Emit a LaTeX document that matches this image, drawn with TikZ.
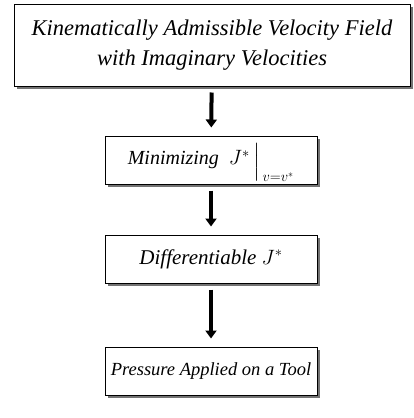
\documentclass[tikz,border=0pt]{standalone}
\usepackage{amsmath}
\usepackage{fontspec}
\setmainfont{Liberation Serif}
\usetikzlibrary{arrows.meta}
\usetikzlibrary{shadows}

\begin{document}
\begin{tikzpicture}[x=1pt,y=-1pt,
      main node/.style={draw,line width=1pt,minimum height=48pt,minimum width=212pt,
        align=center,font=\fontsize{20}{30}\selectfont\itshape,
        drop shadow={shadow xshift=2.5pt,shadow yshift=-2.5pt,fill=black!55,opacity=1},fill=white},
      arr/.style={-{Triangle[width=11pt,length=8pt]}, line width=4pt, shorten <=6pt, shorten >=8pt}]
    \useasboundingbox (0,0) rectangle (413,418);
    \node[main node,minimum width=396pt,minimum height=82pt,font=\fontsize{22.5}{30}\selectfont\itshape] (field) at (212,45)
      {Kinematically Admissible Velocity Field\\with Imaginary Velocities};
    \node[main node] (mini) at (211,160) {Minimizing\ \ $J^{*}\,\smash{\lower2pt\hbox{$\Big|_{\,v=v^{*}}$}}$};
    \node[main node,font=\fontsize{21}{30}\selectfont\itshape] (diff) at (211,259) {Differentiable $J^{*}$};
    \node[main node,font=\fontsize{18.5}{30}\selectfont\itshape] (press) at (211,371) {Pressure Applied on a Tool};
    \draw[arr] (field) -- (mini);
    \draw[arr] (mini) -- (diff);
    \draw[arr] (diff) -- (press);
  \end{tikzpicture}
\end{document}
